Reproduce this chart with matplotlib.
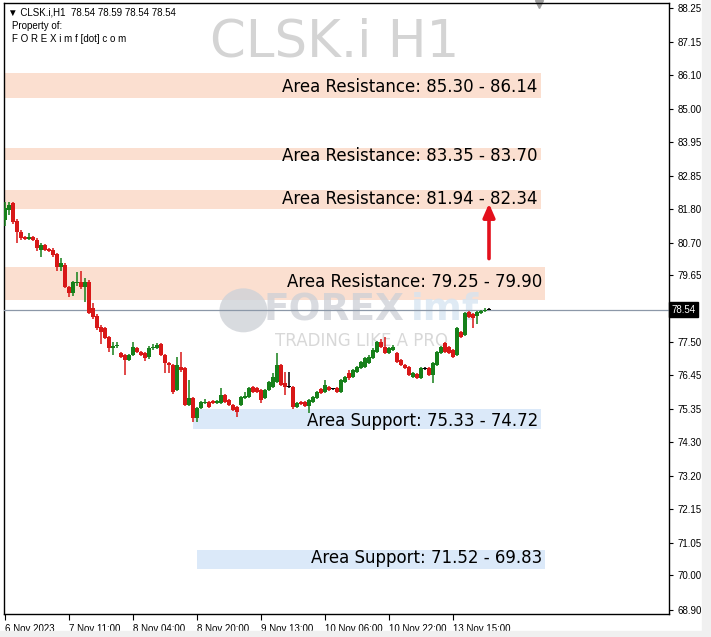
import numpy as np
import matplotlib.pyplot as plt
from matplotlib.patches import Rectangle, Circle

# OHLC, H1 bars, CLSK.i
opens = [81.43, 81.75, 81.98, 81.40, 81.05, 80.88, 80.83, 80.90, 80.80, 80.47,
         80.62, 80.50, 80.47, 80.34, 79.92, 80.00, 79.28, 79.09, 79.40, 79.44,
         79.28, 79.44, 78.60, 78.35, 77.99, 77.96, 77.67, 77.32, 77.38, 77.15,
         77.09, 76.93, 77.09, 77.32, 77.19, 77.15, 77.02, 77.32, 77.32, 77.44,
         77.09, 76.83, 76.77, 75.97, 76.71, 76.67, 75.48, 75.71, 75.07, 75.39,
         75.53, 75.58, 75.61, 75.55, 75.55, 75.80, 75.64, 75.48, 75.42, 75.48,
         75.71, 75.74, 76.06, 76.03, 75.97, 75.71, 75.97, 76.06, 76.22, 76.77,
         76.19, 76.06, 76.06, 75.42, 75.58, 75.58, 75.45, 75.58, 75.71, 76.00,
         75.90, 76.06, 76.00, 76.03, 75.90, 76.22, 76.51, 76.38, 76.54, 76.67,
         76.70, 76.83, 77.00, 77.19, 77.51, 77.35, 77.16, 77.25, 77.16, 76.93,
         76.77, 76.70, 76.38, 76.48, 76.35, 76.64, 76.67, 76.45, 76.77, 77.16,
         77.48, 77.35, 77.25, 77.09, 77.83, 77.74, 78.47, 78.40, 78.34, 78.44,
         78.50, 78.54]
closes = [81.82, 81.92, 81.37, 81.03, 80.85, 80.82, 80.90, 80.80, 80.53, 80.63,
          80.47, 80.44, 80.31, 79.92, 80.05, 79.28, 79.09, 79.44, 79.45, 79.28,
          79.44, 78.44, 78.31, 77.96, 77.83, 77.64, 77.32, 77.38, 77.42, 77.03,
          76.93, 77.09, 77.35, 77.19, 77.09, 76.99, 77.32, 77.36, 77.41, 77.09,
          76.83, 76.77, 75.90, 76.77, 76.61, 75.48, 75.71, 75.07, 75.39, 75.58,
          75.58, 75.42, 75.55, 75.60, 75.80, 75.58, 75.48, 75.32, 75.26, 75.74,
          75.78, 76.03, 75.90, 75.90, 75.64, 75.97, 76.22, 76.38, 76.77, 76.13,
          76.06, 76.06, 75.42, 75.55, 75.50, 75.45, 75.64, 75.74, 75.90, 75.87,
          76.13, 75.97, 76.00, 75.90, 76.29, 76.38, 76.35, 76.61, 76.70, 76.86,
          76.99, 77.03, 77.25, 77.51, 77.35, 77.16, 77.32, 77.35, 76.86, 76.77,
          76.67, 76.45, 76.51, 76.35, 76.67, 76.64, 76.45, 76.83, 77.19, 77.35,
          77.19, 77.16, 77.03, 77.96, 77.67, 78.44, 78.31, 78.28, 78.47, 78.50,
          78.54, 78.54]
highs = [82.00, 82.00, 82.02, 81.45, 81.10, 80.92, 81.00, 80.93, 80.85, 80.70,
         80.66, 80.54, 80.52, 80.36, 80.20, 80.05, 79.30, 79.48, 79.75, 79.80,
         79.55, 79.50, 78.75, 78.40, 78.05, 78.00, 77.70, 77.50, 77.50, 77.20,
         77.12, 77.12, 77.50, 77.36, 77.22, 77.18, 77.38, 77.45, 77.48, 77.48,
         77.12, 76.86, 76.80, 77.03, 77.19, 76.70, 76.29, 75.75, 75.42, 75.62,
         75.67, 75.62, 75.64, 75.64, 76.03, 75.84, 75.67, 75.51, 75.45, 75.78,
         75.90, 76.06, 76.09, 76.06, 76.00, 76.00, 76.26, 76.51, 77.15, 76.80,
         76.54, 76.54, 76.09, 75.58, 75.61, 75.61, 75.67, 75.78, 75.94, 76.03,
         76.30, 76.10, 76.03, 76.06, 76.32, 76.42, 76.60, 76.64, 76.74, 76.90,
         77.03, 77.08, 77.30, 77.55, 77.60, 77.67, 77.36, 77.40, 77.19, 76.96,
         76.80, 76.74, 76.54, 76.51, 76.70, 76.70, 76.70, 76.86, 77.22, 77.38,
         77.51, 77.38, 77.28, 77.99, 77.86, 78.47, 78.50, 78.43, 78.50, 78.55,
         78.60, 78.59]
lows = [81.25, 81.60, 81.30, 80.70, 80.80, 80.78, 80.80, 80.76, 80.45, 80.25,
        80.42, 80.40, 80.25, 79.80, 79.78, 79.25, 78.95, 79.00, 79.30, 79.20,
        78.80, 78.40, 78.25, 77.90, 77.45, 77.60, 77.20, 77.10, 77.30, 77.00,
        76.45, 76.90, 77.05, 77.15, 77.05, 76.90, 76.97, 77.25, 77.28, 77.05,
        76.51, 76.50, 75.85, 75.92, 76.55, 75.45, 75.44, 74.94, 74.94, 75.35,
        75.50, 75.38, 75.52, 75.52, 75.52, 75.55, 75.44, 75.29, 75.10, 75.45,
        75.68, 75.70, 75.86, 75.86, 75.55, 75.68, 75.94, 76.03, 76.19, 76.10,
        75.80, 76.03, 75.35, 75.38, 75.47, 75.42, 75.22, 75.55, 75.68, 75.84,
        75.87, 75.94, 75.97, 75.87, 75.87, 76.19, 76.30, 76.35, 76.51, 76.64,
        76.67, 76.80, 76.97, 77.15, 77.32, 77.12, 77.12, 77.22, 76.83, 76.74,
        76.64, 76.42, 76.35, 76.32, 76.32, 76.60, 76.42, 76.19, 76.74, 77.12,
        77.16, 77.12, 77.00, 77.05, 77.64, 77.70, 78.28, 77.96, 78.10, 78.40,
        78.46, 78.54]

# zones: (bottom, top, first bar, last bar, label)
res_zones = [(85.36, 86.16, -1, 134, "Area Resistance: 85.30 - 86.14"),
             (83.36, 83.75, -1, 134, "Area Resistance: 83.35 - 83.70"),
             (81.79, 82.40, -1, 134, "Area Resistance: 81.94 - 82.34"),
             (78.87, 79.92, -1, 135, "Area Resistance: 79.25 - 79.90")]
sup_zones = [(74.71, 75.36, 47, 134, "Area Support: 75.33 - 74.72"),
             (70.21, 70.82, 48, 135, "Area Support: 71.52 - 69.83")]
label_y = [85.72, 83.50, 82.11, 79.45, 74.97, 70.57]

y_ticks = [88.25, 87.15, 86.10, 85.00, 83.95, 82.85, 81.80, 80.70, 79.65,
           77.50, 76.45, 75.35, 74.30, 73.20, 72.15, 71.05, 70.00, 68.90]
x_tick_pos = [0, 16, 32, 48, 64, 80, 96, 112]
x_tick_lab = ["6 Nov 2023", "7 Nov 11:00", "8 Nov 04:00", "8 Nov 20:00",
              "9 Nov 13:00", "10 Nov 06:00", "10 Nov 22:00", "13 Nov 15:00"]
last_price = 78.54

small = 'Liberation Sans'

fig = plt.figure(figsize=(7.11, 6.37), dpi=100)
ax = fig.add_axes([4 / 711, 23 / 637, 665 / 711, 611 / 637])
ax.set_xlim(-0.25, 166)
ax.set_ylim(68.76, 88.41)

# zones
for (b, t, x0, x1, lab), ly in zip(res_zones + sup_zones, label_y):
    col = '#fbdfd0' if lab.startswith("Area Res") else '#dbe9f9'
    ax.add_patch(Rectangle((x0, b), x1 - x0, t - b, color=col, lw=0, zorder=1))
    ax.text(x1 - 0.8, ly, lab, ha='right', va='center', fontsize=12,
            color='black', zorder=6)

# title watermark
ax.text(0.497, 0.935, "CLSK.i H1", transform=ax.transAxes, ha='center',
        va='center', fontsize=37, color='#d4d4d4', zorder=0)

# FOREXimf watermark
ax.add_patch(Circle((0.36, 0.497), 0.036, transform=ax.transAxes,
                    color='#cfd2d8', alpha=0.8, lw=0, zorder=2))
ax.text(0.39, 0.497, "FOREX", transform=ax.transAxes, ha='left', va='center',
        fontsize=27, fontweight='bold', color='#cdd0d6', alpha=0.75, zorder=2)
ax.text(0.612, 0.497, "imf", transform=ax.transAxes, ha='left', va='center',
        fontsize=27, fontweight='bold', color='#d5e4f1', alpha=0.75, zorder=2)
ax.text(0.407, 0.447, "TRADING LIKE A PRO", transform=ax.transAxes, ha='left',
        va='center', fontsize=12, color='#d8d8d8', zorder=2)

# last price line
ax.axhline(last_price, color='#8c98a8', lw=0.9, zorder=3)

# candles
o = np.array(opens)
c = np.array(closes)
h = np.array(highs)
l = np.array(lows)
idx = np.arange(len(o))
cols = np.where(c > o, '#16801a', np.where(c < o, '#d81818', '#000000'))
ax.vlines(idx, l, h, colors=cols, lw=1.1, zorder=4)
body = np.maximum(np.abs(c - o), 0.03)
ax.bar(idx, body, bottom=np.minimum(o, c), width=0.8, color=cols, lw=0, zorder=5)

# arrow
ax.annotate("", xy=(121, 82.05), xytext=(121, 80.1),
            arrowprops=dict(arrowstyle='-|>,head_length=0.8,head_width=0.35',
                            color='#e3101c', lw=2.6), zorder=7)

# axes look
for s in ax.spines.values():
    s.set_color('black')
    s.set_linewidth(1)
ax.yaxis.tick_right()
ax.set_yticks(y_ticks)
ax.set_yticklabels([f"{v:.2f}" for v in y_ticks], family=small)
ax.set_xticks(x_tick_pos)
ax.set_xticklabels(x_tick_lab, ha='left', family=small)
ax.tick_params(axis='y', direction='out', length=3, pad=3, labelsize=7,
               colors='black')
ax.tick_params(axis='x', direction='out', length=4, pad=3, labelsize=7,
               colors='black')

# price tag on the right
ax.text(1.004, (last_price - 68.76) / (88.41 - 68.76), "78.54",
        transform=ax.transAxes, ha='left', va='center', fontsize=7,
        family=small, color='white',
        bbox=dict(boxstyle='square,pad=0.25', fc='black', ec='black'))

# header texts
ax.text(0.006, 0.993, "\u25bc CLSK.i,H1  78.54 78.59 78.54 78.54",
        transform=ax.transAxes, ha='left', va='top', fontsize=7, family=small)
ax.text(0.012, 0.971, "Property of:", transform=ax.transAxes, ha='left',
        va='top', fontsize=7, family=small)
ax.text(0.012, 0.949, "F O R E X i m f [dot] c o m", transform=ax.transAxes,
        ha='left', va='top', fontsize=7, family=small)

# small chart-shift marker
ax.plot([0.805], [0.998], marker='v', ms=6, color='#a0a0a0',
        transform=ax.transAxes, clip_on=False)

# window strips
fig.patches.append(Rectangle((0, 0), 1, 6 / 637, transform=fig.transFigure,
                             color='#f0f0f0', zorder=0))
fig.patches.append(Rectangle((702 / 711, 0), 9 / 711, 1,
                             transform=fig.transFigure, color='#f0f0f0', zorder=0))

fig.savefig("out.png", dpi=100)
